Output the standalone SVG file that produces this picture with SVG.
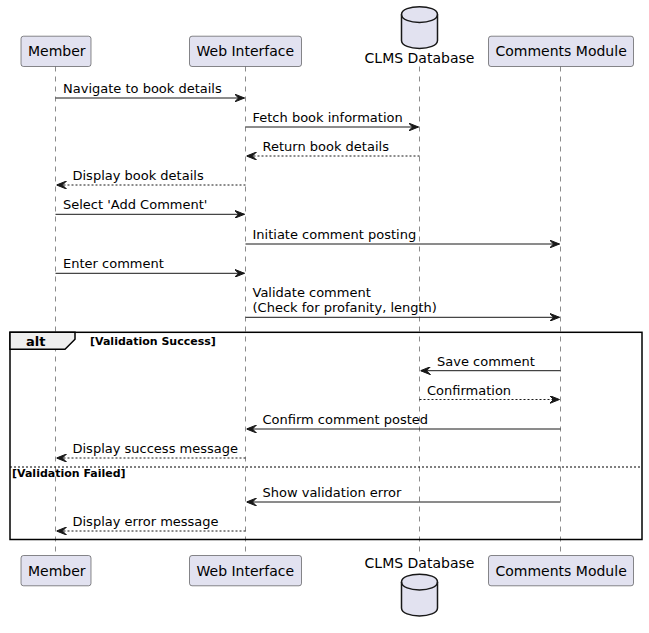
<svg xmlns="http://www.w3.org/2000/svg" width="649" height="633" viewBox="0 0 649 633">
<style>
.bg{fill:#FFFFFF}
.box{fill:#E2E2F0;stroke:#181818;stroke-width:0.5}
.db{fill:#E2E2F0;stroke:#181818;stroke-width:1.5}
.life{stroke:#181818;stroke-width:0.5;stroke-dasharray:5,5;fill:none}
.pt{font-family:"DejaVu Sans",sans-serif;font-size:14px;fill:#000000}
.mt{font-family:"DejaVu Sans",sans-serif;font-size:13px;fill:#000000}
.msg{stroke:#181818;stroke-width:1;fill:none;marker-end:url(#ah)}
.dash{stroke-dasharray:2,2}
.frame{fill:none;stroke:#000000;stroke-width:1.5}
.tab{fill:#EEEEEE;stroke:#000000;stroke-width:1.5}
.bt{font-family:"DejaVu Sans",sans-serif;font-weight:bold;fill:#000000}
</style>
<defs>
<marker id="ah" markerUnits="userSpaceOnUse" markerWidth="10" markerHeight="8" refX="10" refY="4" orient="auto">
<path d="M0,0 L10,4 L0,8 L4,4 Z" fill="#181818" stroke="#181818" stroke-width="1"/>
</marker>
</defs>
<rect class="bg" x="0" y="0" width="649" height="633"/>

<g id="lifelines">
<line class="life" x1="55.5" y1="66.5" x2="55.5" y2="555.5"/>
<line class="life" x1="245.5" y1="66.5" x2="245.5" y2="555.5"/>
<line class="life" x1="419.5" y1="66.5" x2="419.5" y2="555.5"/>
<line class="life" x1="560.5" y1="66.5" x2="560.5" y2="555.5"/>
</g>

<g id="alt-frame">
<rect class="frame" x="10" y="332.3" width="632" height="207.2"/>
<path class="tab" d="M10,332.3 L75,332.3 L75,339.3 L65,349.3 L10,349.3 Z"/>
<text class="bt" x="26" y="345.5" font-size="13">alt</text>
<text class="bt" x="90" y="345" font-size="11">[Validation Success]</text>
<line x1="10" y1="467" x2="642" y2="467" stroke="#000000" stroke-width="1" stroke-dasharray="2,2"/>
<text class="bt" x="12" y="477" font-size="11">[Validation Failed]</text>
</g>

<g id="member">
<rect class="box" x="21" y="36.2" width="70" height="30.3" rx="2.5"/>
<text class="pt" x="28" y="56">Member</text>
<rect class="box" x="21" y="555.5" width="70" height="30.3" rx="2.5"/>
<text class="pt" x="28" y="575.5">Member</text>
</g>

<g id="web-interface">
<rect class="box" x="189.5" y="36.2" width="112" height="30.3" rx="2.5"/>
<text class="pt" x="196.5" y="56">Web Interface</text>
<rect class="box" x="189.5" y="555.5" width="112" height="30.3" rx="2.5"/>
<text class="pt" x="196.5" y="575.5">Web Interface</text>
</g>

<g id="clms-database">
<path class="db" d="M401.5,14.5 C401.5,4 437.5,4 437.5,14.5 L437.5,40.5 C437.5,51 401.5,51 401.5,40.5 Z"/>
<path class="db" fill="none" d="M401.5,14.5 C401.5,25 437.5,25 437.5,14.5" style="fill:none"/>
<text class="pt" x="419.5" y="63" text-anchor="middle">CLMS Database</text>
<text class="pt" x="419.5" y="567.5" text-anchor="middle">CLMS Database</text>
<path class="db" d="M401.5,582 C401.5,571.5 437.5,571.5 437.5,582 L437.5,608 C437.5,618.5 401.5,618.5 401.5,608 Z"/>
<path class="db" d="M401.5,582 C401.5,592.5 437.5,592.5 437.5,582" style="fill:none"/>
</g>

<g id="comments-module">
<rect class="box" x="488.5" y="36.2" width="145" height="30.3" rx="2.5"/>
<text class="pt" x="495.5" y="56">Comments Module</text>
<rect class="box" x="488.5" y="555.5" width="145" height="30.3" rx="2.5"/>
<text class="pt" x="495.5" y="575.5">Comments Module</text>
</g>

<g id="connectors">
<line class="msg" x1="55.5" y1="98" x2="244.5" y2="98"/>
<text class="mt" x="63" y="93">Navigate to book details</text>

<line class="msg" x1="245.5" y1="127" x2="418.5" y2="127"/>
<text class="mt" x="252.5" y="122">Fetch book information</text>

<line class="msg dash" x1="419.5" y1="156" x2="246.5" y2="156"/>
<text class="mt" x="262.5" y="151">Return book details</text>

<line class="msg dash" x1="245.5" y1="185" x2="56.5" y2="185"/>
<text class="mt" x="72.5" y="180">Display book details</text>

<line class="msg" x1="55.5" y1="214.3" x2="244.5" y2="214.3"/>
<text class="mt" x="63" y="209.3">Select 'Add Comment'</text>

<line class="msg" x1="245.5" y1="244" x2="559.5" y2="244"/>
<text class="mt" x="252.5" y="239">Initiate comment posting</text>

<line class="msg" x1="55.5" y1="273.3" x2="244.5" y2="273.3"/>
<text class="mt" x="63" y="268.3">Enter comment</text>

<line class="msg" x1="245.5" y1="317.3" x2="559.5" y2="317.3"/>
<text class="mt" x="252.5" y="297.3">Validate comment</text>
<text class="mt" x="252.5" y="312.3">(Check for profanity, length)</text>

<line class="msg" x1="560.5" y1="370.7" x2="420.5" y2="370.7"/>
<text class="mt" x="437" y="365.7">Save comment</text>

<line class="msg dash" x1="419.5" y1="399.5" x2="559.5" y2="399.5"/>
<text class="mt" x="427" y="394.5">Confirmation</text>

<line class="msg" x1="560.5" y1="429" x2="246.5" y2="429"/>
<text class="mt" x="262.5" y="424">Confirm comment posted</text>

<line class="msg dash" x1="245.5" y1="458" x2="56.5" y2="458"/>
<text class="mt" x="72.5" y="453">Display success message</text>

<line class="msg" x1="560.5" y1="502" x2="246.5" y2="502"/>
<text class="mt" x="262.5" y="497">Show validation error</text>

<line class="msg dash" x1="245.5" y1="531" x2="56.5" y2="531"/>
<text class="mt" x="72.5" y="526">Display error message</text>
</g>
</svg>
